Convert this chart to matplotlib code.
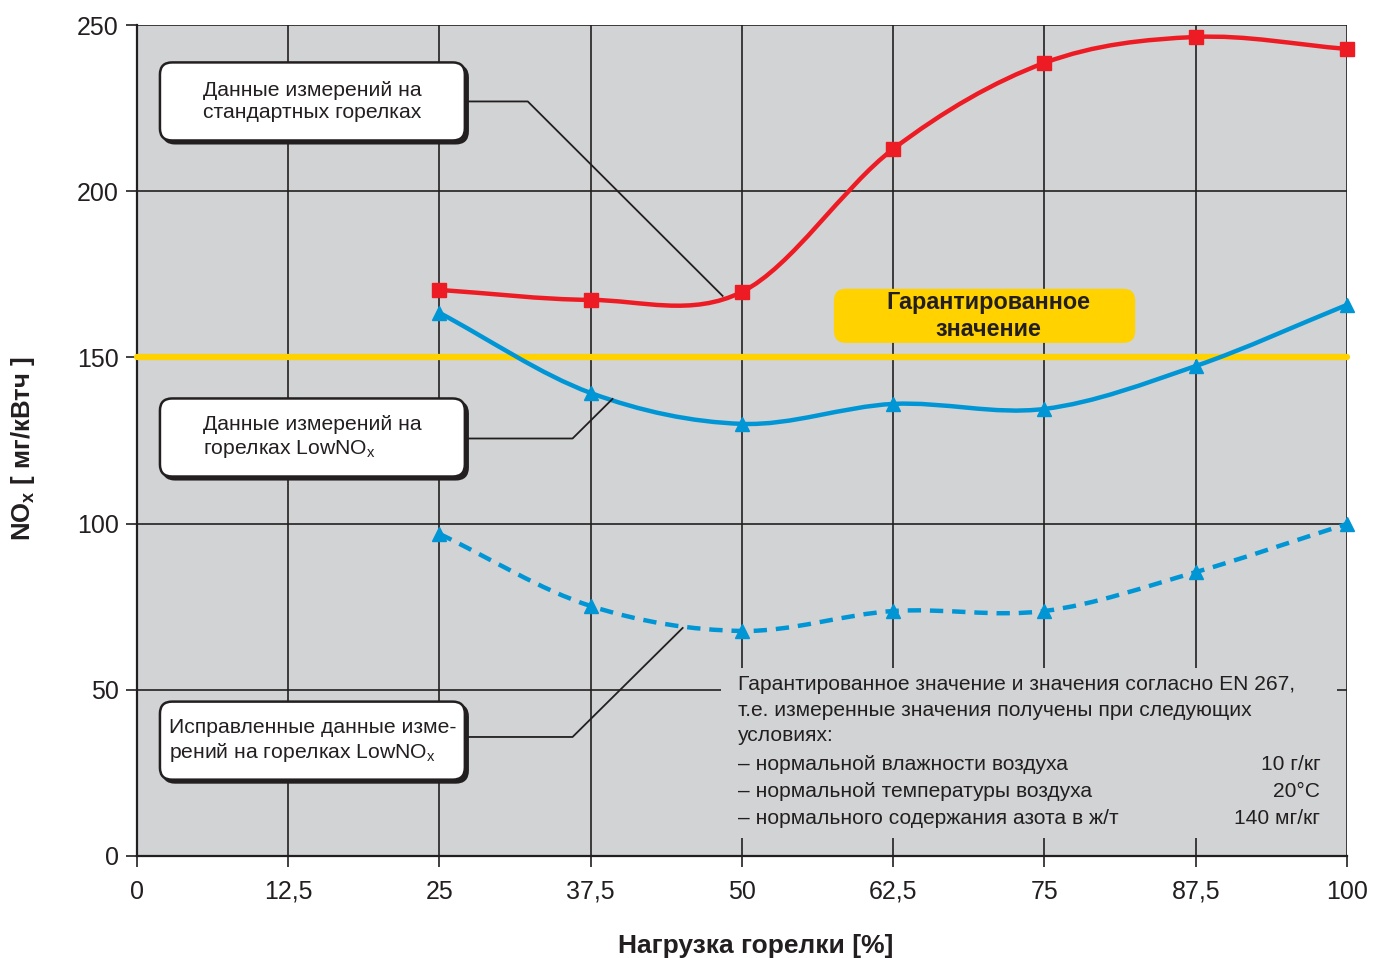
import numpy as np
import matplotlib
matplotlib.use("Agg")
import matplotlib.pyplot as plt
from matplotlib.path import Path
from matplotlib.patches import PathPatch, FancyBboxPatch, Rectangle

plt.rcParams['font.family'] = ['Liberation Sans', 'DejaVu Sans']
plt.rcParams['mathtext.fontset'] = 'custom'
plt.rcParams['mathtext.rm'] = 'Liberation Sans'

# data
load = [25, 37.5, 50, 62.5, 75, 87.5, 100]
nox_standard = [170.3, 167.3, 169.7, 212.7, 238.6, 246.4, 242.8]
nox_lownox = [163.4, 139.3, 130.0, 136.0, 134.5, 147.4, 165.8]
nox_lownox_corr = [96.9, 75.2, 67.7, 73.7, 73.7, 85.4, 99.9]
guaranteed = 150

x_ticks = [0, 12.5, 25, 37.5, 50, 62.5, 75, 87.5, 100]
x_labels = ['0', '12,5', '25', '37,5', '50', '62,5', '75', '87,5', '100']
y_ticks = [0, 50, 100, 150, 200, 250]

RED = '#ed1c24'
BLUE = '#0096d6'
YELLOW = '#ffd200'
DARK = '#231f20'
GREY = '#d1d3d4'


def smooth_path(xs, ys):
    # Catmull-Rom through the points, drawn as cubic Bezier segments
    xs = np.asarray(xs, float)
    ys = np.asarray(ys, float)
    n = len(xs)
    tx = np.zeros(n)
    ty = np.zeros(n)
    for i in range(n):
        a = max(i - 1, 0)
        b = min(i + 1, n - 1)
        k = 1.0 if (a == i or b == i) else 0.5
        tx[i] = (xs[b] - xs[a]) * k
        ty[i] = (ys[b] - ys[a]) * k
    verts = [(xs[0], ys[0])]
    codes = [Path.MOVETO]
    for i in range(n - 1):
        verts += [(xs[i] + tx[i] / 3, ys[i] + ty[i] / 3),
                  (xs[i + 1] - tx[i + 1] / 3, ys[i + 1] - ty[i + 1] / 3),
                  (xs[i + 1], ys[i + 1])]
        codes += [Path.CURVE4] * 3
    return Path(verts, codes)


fig = plt.figure(figsize=(13.75, 9.58), dpi=100)
ax = fig.add_axes([0.0996, 0.1065, 0.880, 0.8674])
ax.set_facecolor(GREY)
ax.set_xlim(0, 100)
ax.set_ylim(0, 250)

# aspect between x and y data units in pixels (for round corners)
asp = (1375 * 0.880 / 100) / (958 * 0.8674 / 250)

for s in ['top', 'right']:
    ax.spines[s].set_visible(False)
for s in ['left', 'bottom']:
    ax.spines[s].set_color(DARK)
    ax.spines[s].set_linewidth(1.6)

ax.set_xticks(x_ticks)
ax.set_xticklabels(x_labels)
ax.set_yticks(y_ticks)
ax.tick_params(axis='both', direction='out', length=8, width=1.2, color=DARK,
               labelsize=18, labelcolor=DARK)
ax.tick_params(axis='x', pad=9)
ax.tick_params(axis='y', pad=5)
ax.grid(True, color=DARK, linewidth=1.2, zorder=1)
ax.set_axisbelow(True)

ax.set_xlabel('Нагрузка горелки [%]', fontsize=19, fontweight='bold', color=DARK, labelpad=22)
ax.xaxis.set_label_coords(0.5116, -0.094)
ax.set_ylabel(r'NO$_\mathregular{x}$ [ мг/кВтч ]', fontsize=18.5, fontweight='bold', color=DARK, labelpad=24)
ax.yaxis.set_label_coords(-0.083, 0.49)

# notes area hides the grid behind it
ax.add_patch(Rectangle((48.3, 5.4), 50.9, 51.2, facecolor=GREY, edgecolor='none', zorder=1.5))
note_lines = ['Гарантированное значение и значения согласно EN 267,',
              'т.е. измеренные значения получены при следующих',
              'условиях:']
note_items = ['– нормальной влажности воздуха',
              '– нормальной температуры воздуха',
              '– нормального содержания азота в ж/т']
note_values = ['10 г/кг', '20°C', '140 мг/кг']
for txt, yy in zip(note_lines, [51.7, 43.9, 36.1]):
    ax.text(49.7, yy, txt, fontsize=15.1, color=DARK, va='center', ha='left', zorder=2)
for txt, val, yy in zip(note_items, note_values, [27.6, 19.5, 11.4]):
    ax.text(49.7, yy, txt, fontsize=15.1, color=DARK, va='center', ha='left', zorder=2)
    ax.text(97.8, yy, val, fontsize=15.1, color=DARK, va='center', ha='right', zorder=2)

# guaranteed value line and label
ax.plot([0, 100], [guaranteed, guaranteed], color=YELLOW, linewidth=4.5,
        solid_capstyle='round', zorder=3, clip_on=False)
ax.add_patch(FancyBboxPatch((58.6, 158.0), 22.9, 9.0, boxstyle='round,pad=1.0,rounding_size=1.0',
                            mutation_aspect=asp, facecolor=YELLOW, edgecolor='none', zorder=3))
ax.text(70.4, 162.4, 'Гарантированное\nзначение', fontsize=16.8, fontweight='bold', color=DARK,
        ha='center', va='center', linespacing=1.2, zorder=4)

# curves
ax.add_patch(PathPatch(smooth_path(load, nox_standard), facecolor='none', edgecolor=RED,
                       linewidth=3.2, zorder=5, clip_on=False))
ax.add_patch(PathPatch(smooth_path(load, nox_lownox), facecolor='none', edgecolor=BLUE,
                       linewidth=3.2, zorder=5, clip_on=False))
ax.add_patch(PathPatch(smooth_path(load, nox_lownox_corr), facecolor='none', edgecolor=BLUE,
                       linewidth=3.2, linestyle=(0, (3, 2)), zorder=5, clip_on=False))
ax.plot(load, nox_standard, linestyle='none', marker='s', markersize=10, color=RED, zorder=6, clip_on=False)
ax.plot(load, nox_lownox, linestyle='none', marker='^', markersize=10, color=BLUE, zorder=6, clip_on=False)
ax.plot(load, nox_lownox_corr, linestyle='none', marker='^', markersize=10, color=BLUE, zorder=6, clip_on=False)

# callout boxes with leader lines
callouts = [
    ('Данные измерений на\nстандартных горелках', 227.0, [(27.1, 227.0), (32.3, 227.0), (48.4, 168.5)]),
    ('Данные измерений на\nгорелках LowNO$_\\mathregular{x}$', 125.9, [(27.1, 125.6), (36.0, 125.6), (39.3, 137.5)]),
    ('Исправленные данные изме-\nрений на горелках LowNO$_\\mathregular{x}$', 34.7, [(27.1, 35.8), (36.0, 35.8), (45.1, 68.6)]),
]
for text, yc, leader in callouts:
    lx, ly = zip(*leader)
    ax.plot(lx, ly, color=DARK, linewidth=1.3, zorder=7)
    x0, w, h = 2.9, 23.2, 16.2
    y0 = yc - h / 2
    ax.add_patch(FancyBboxPatch((x0 + 0.25, y0 - 0.9), w, h, boxstyle='round,pad=1.0,rounding_size=1.0',
                                mutation_aspect=asp, facecolor=DARK, edgecolor=DARK,
                                linewidth=1.5, zorder=8))
    ax.add_patch(FancyBboxPatch((x0, y0), w, h, boxstyle='round,pad=1.0,rounding_size=1.0',
                                mutation_aspect=asp, facecolor='white', edgecolor=DARK,
                                linewidth=1.8, zorder=9))
    ax.text(14.5, yc, text, fontsize=15.2, color=DARK, ha='center', va='center',
            multialignment='left', linespacing=1.25, zorder=10)

fig.savefig('out.png', dpi=100)
